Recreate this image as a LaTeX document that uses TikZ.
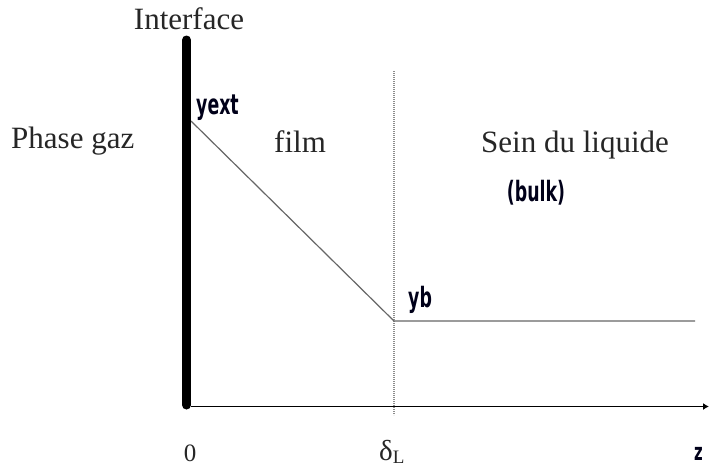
\documentclass[tikz,border=0pt]{standalone}
\usepackage{fontspec}
\setmainfont{Liberation Serif}
\newfontfamily\condfont{DejaVu Sans}
\usetikzlibrary{arrows.meta}
\tikzset{
  serif/.style={font=\fontsize{31}{31}\selectfont, text=black!85, inner sep=0pt},
  condlbl/.style={font=\condfont\bfseries\fontsize{28}{28}\selectfont, text=black!90!blue, inner sep=0pt},
  curve/.style={draw=black!60, line width=1.2pt},
  axisline/.style={draw=black, line width=1.4pt, -{Latex[length=6pt,width=7pt]}},
  dotline/.style={draw=black!45, line width=1.6pt, dash pattern=on 1.2pt off 0.8pt},
  bar/.style={draw=black, line width=9pt, line cap=round}
}
\begin{document}
\begin{tikzpicture}[x=1pt,y=-1pt]
\useasboundingbox (0,0) rectangle (709,466);
% coordinates
\coordinate (bartop) at (186.5,40);
\coordinate (barbot) at (186.5,405);
\coordinate (ye) at (191,121);
\coordinate (ybp) at (394,321);
\coordinate (hend) at (695,321);
\coordinate (ax0) at (191,406.5);
\coordinate (axend) at (709,406.5);
\coordinate (dtop) at (394,71);
\coordinate (dbot) at (394,415);
% lines
\draw[dotline] (dtop) -- (dbot);
\draw[curve] (ye) -- (ybp) -- (hend);
\draw[axisline] (ax0) -- (axend);
\draw[bar] (bartop) -- (barbot);
% texts
\node[serif, anchor=base] (iface) at (189,29) {Interface};
\node[serif, anchor=base west] (pg) at (11,148) {Phase gaz};
\node[serif, anchor=base west] (film) at (274,152) {film};
\node[serif, anchor=base] (sein) at (575,152) {Sein du liquide};
\node[condlbl, anchor=center] (bulk) at (536,193) {\scalebox{0.62}[1]{(bulk)}};
\node[condlbl, anchor=base west] (yext) at (196,114) {\scalebox{0.62}[1]{yext}};
\node[condlbl, anchor=base west] (yb) at (408,307) {\scalebox{0.62}[1]{yb}};
\node[serif, font=\fontsize{25}{25}\selectfont, anchor=base] (zero) at (190,461) {0};
\node[serif, font=\fontsize{29}{29}\selectfont, anchor=base west] (delta) at (379,460) {δ\raisebox{-3pt}{\fontsize{19}{19}\selectfont L}};
\node[condlbl, font=\condfont\bfseries\fontsize{24}{24}\selectfont, anchor=base east] (z) at (703,460) {\scalebox{0.62}[1]{z}};
\end{tikzpicture}
\end{document}
